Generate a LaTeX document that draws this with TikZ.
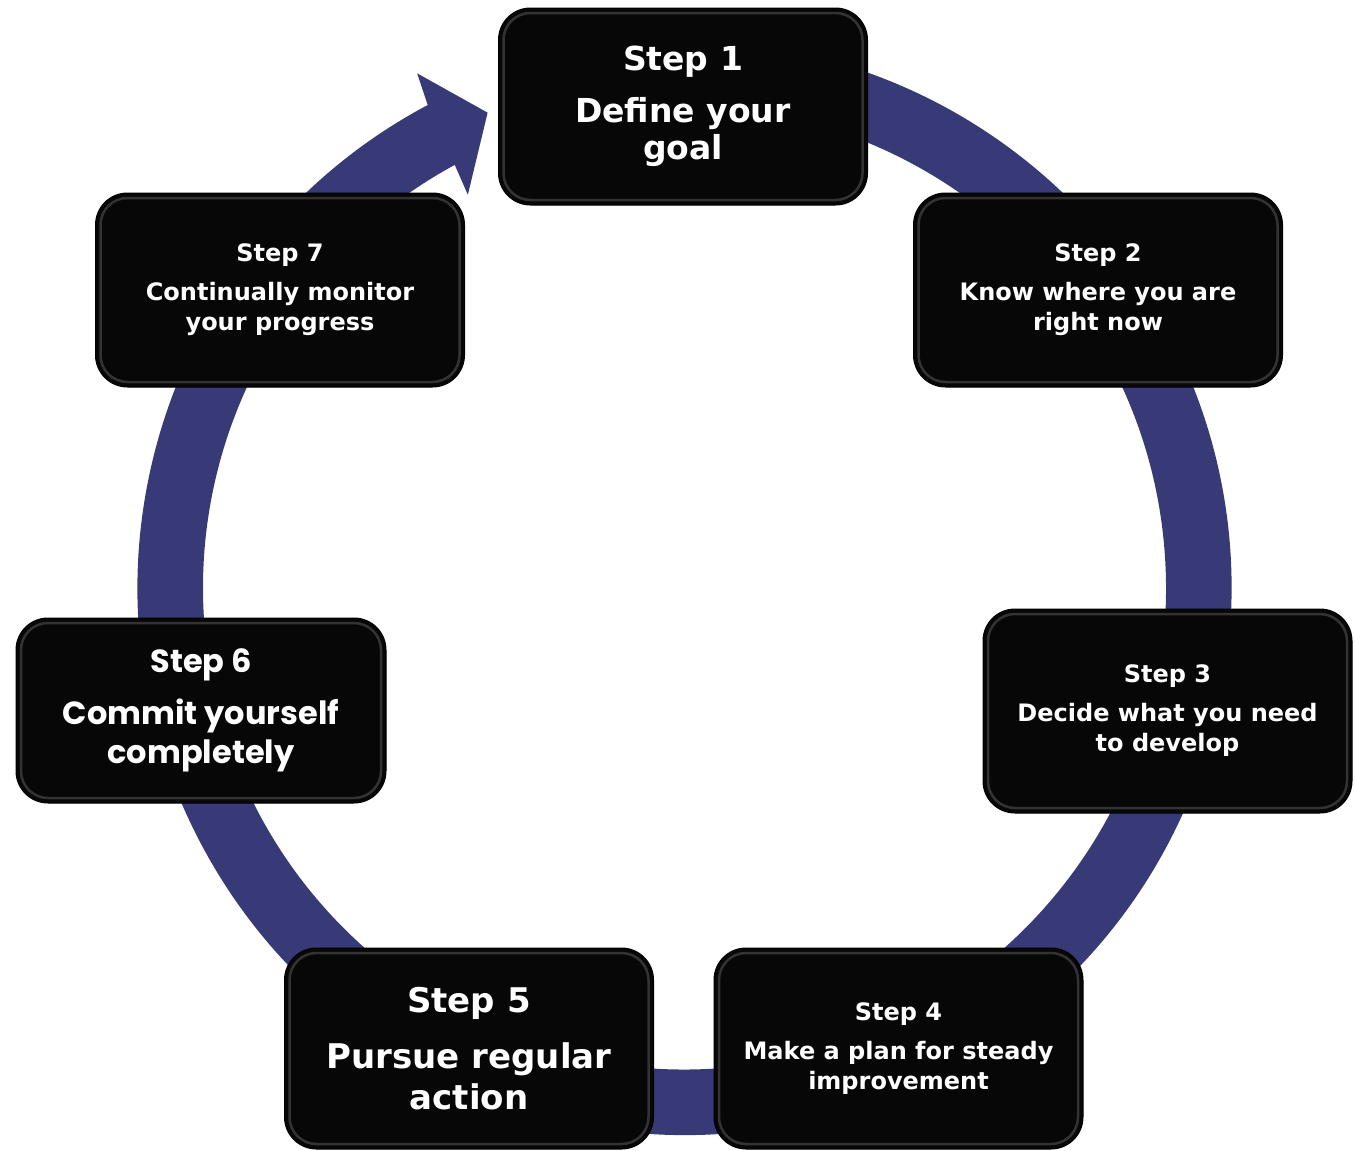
\documentclass[tikz,border=0pt]{standalone}
\usepackage{fontspec}
\setmainfont{DejaVu Sans}
\newfontfamily\popfont{Poppins}
\usepackage{tikz}
\usetikzlibrary{calc}
\definecolor{ringblue}{RGB}{56,58,120}
\definecolor{boxblack}{RGB}{7,7,7}
\newcommand\bigtxt{\fontsize{33}{37}\selectfont}
\newcommand\smalltxt{\fontsize{24}{30}\selectfont}
\tikzset{
  stepbox/.style={rounded corners=32pt, fill=boxblack, draw=black,
    line width=1pt, minimum width=369pt, minimum height=197pt,
    text=white, align=center, font=\bfseries\smalltxt, inner sep=0pt,
    path picture={\draw[black!80, line width=2.5pt, rounded corners=27pt]
      ([shift={(5pt,5pt)}]path picture bounding box.south west) rectangle
      ([shift={(-5pt,-5pt)}]path picture bounding box.north east);}}
}
\begin{document}
\begin{tikzpicture}[x=1pt,y=1pt]
    \useasboundingbox (0,0) rectangle (1355,-1151);
    \coordinate (c) at (684.5,-588);
    \fill[ringblue] ($(c)+(118:547)$)
      arc[start angle=118, end angle=455, radius=547]
      -- ($(c)+(455:481.5)$)
      arc[start angle=455, end angle=118.5, radius=481.5]
      -- ($(c)+(118.85:449)$)
      -- ($(c)+(112.5:514.5)$)
      -- ($(c)+(117.45:580)$)
      -- cycle;
    \node[stepbox, font=\bfseries\bigtxt] (s1) at (683,-106.5)
      {Step 1\\[15pt] Define your\\ goal};
    \node[stepbox, minimum height=194pt] (s2) at (1098,-290)
      {Step 2\\[9pt] Know where you are\\ right now};
    \node[stepbox, minimum height=204pt] (s3) at (1167.5,-711)
      {Step 3\\[9pt] Decide what you need\\ to develop};
    \node[stepbox, minimum height=201pt] (s4) at (898.5,-1048.5)
      {Step 4\\[9pt] Make a plan for steady\\ improvement};
    \node[stepbox, minimum height=201pt, font=\bfseries\fontsize{34}{41}\selectfont]
      (s5) at (469,-1048.5) {Step 5\\[15pt] Pursue regular\\ action};
    \node[stepbox, minimum width=370pt, minimum height=185pt,
      font=\popfont\bfseries\fontsize{32}{39}\selectfont] (s6) at (201,-710.5)
      {Step 6\\[13pt] Commit yourself\\ completely};
    \node[stepbox, minimum height=194pt] (s7) at (280,-290)
      {Step 7\\[9pt] Continually monitor\\ your progress};
\end{tikzpicture}
\end{document}
